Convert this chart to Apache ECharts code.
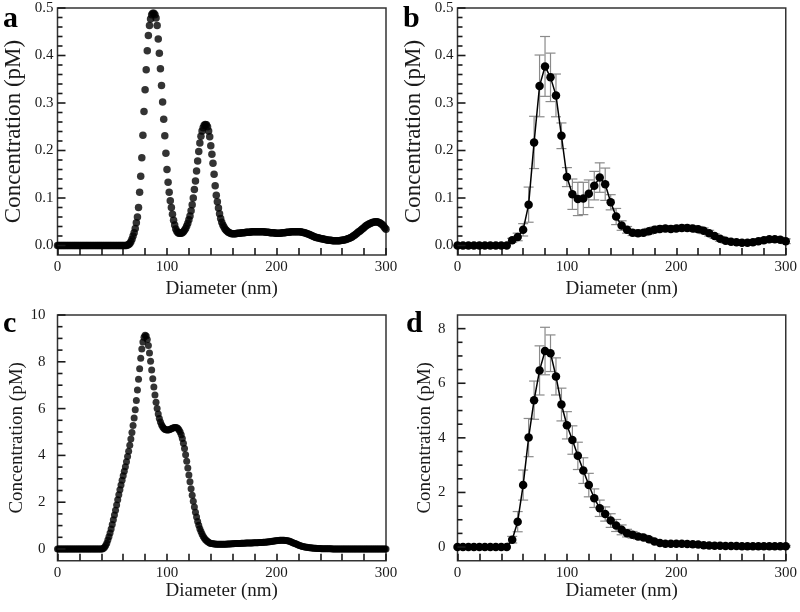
<!DOCTYPE html>
<html><head><meta charset="utf-8">
<script src="https://cdn.jsdelivr.net/npm/echarts@6/dist/echarts.min.js"></script>
<style>html,body{margin:0;padding:0;background:#fff}#c{width:800px;height:612px}</style>
</head><body><div id="c"></div>
<script>
// ---------- DATA ----------
// Panel a: dense scan, one value per nm from 0 to 300 nm
const stepFine = 1;
const concA = [
0,0,0,0,0,0,0,0,0,0, 0,0,0,0,0,0,0,0,0,0, 0,0,0,0,0,0,0,0,0,0, 0,0,0,0,0,0,0,0,0,0,
0,0,0,0,0,0,0,0,0,0, 0,0,0,0,0,0,0,0,0,0, 0,0,0,0,
0.001,0.002,0.004,0.008,0.013,0.020,0.027,0.036,0.048,0.060,0.080,0.112,0.146,0.185,0.232,0.282,
0.328,0.370,0.410,0.442,0.463,0.477,0.486,0.489,0.489,0.486,0.479,0.463,0.435,0.405,0.372,0.337,
0.302,0.266,0.231,0.194,0.160,0.133,0.112,0.094,0.080,0.066,0.053,0.043,0.035,0.030,0.027,0.026,
0.026,0.026,0.027,0.029,0.032,0.036,0.041,0.047,0.054,0.062,0.073,0.086,0.100,0.118,0.136,0.157,
0.178,0.198,0.216,0.230,0.241,0.248,0.253,0.255,0.254,0.250,0.241,0.229,0.210,0.192,0.173,0.150,
0.126,0.106,0.092,0.079,0.067,0.057,0.049,0.043,0.039,0.035,0.032,0.030,0.028,0.027,0.026,0.025,
0.025,0.025,0.025,0.025,0.026,0.026,0.026,0.026,0.027,0.027,0.027,
0.027,0.028,0.028,0.028,0.028,0.028,0.029,0.029,0.029,0.029,0.029,0.029,0.029,0.029,0.029,
0.029,0.029,0.029,0.029,0.028,0.028,0.028,0.028,0.027,0.027,0.027,0.027,0.027,0.026,0.026,
0.026,0.026,0.026,0.026,0.027,0.027,0.027,0.027,0.028,0.028,0.028,0.028,0.029,0.029,0.029,
0.029,0.029,0.029,0.029,0.029,0.029,0.029,0.028,0.028,0.027,0.027,0.026,0.025,0.024,0.023,
0.022,0.021,0.020,0.019,0.018,0.017,0.017,0.016,0.016,0.015,0.014,0.014,0.013,0.013,0.012,
0.012,0.011,0.011,0.011,0.011,0.010,0.010,0.010,0.010,0.010,0.010,0.010,0.010,0.011,0.011,
0.011,0.012,0.012,0.013,0.014,0.015,0.016,0.017,0.018,0.020,0.021,0.023,0.025,0.027,0.029,
0.030,0.032,0.034,0.036,0.038,0.040,0.042,0.043,0.045,0.046,0.047,0.048,0.049,0.049,0.050,
0.050,0.050,0.049,0.048,0.047,0.045,0.043,0.040,0.037,0.034
];

// Panel c: dense scan, one value per nm from 0 to 300 nm
const concC = [
0,0,0,0,0,0,0,0,0,0, 0,0,0,0,0,0,0,0,0,0, 0,0,0,0,0,0,0,0,0,0, 0,0,0,0,0,0,0,0,0,0, 0,0,
0.03,0.08,0.15,0.25,0.38,0.52,0.68,0.86,1.05,1.25,1.45,1.66,1.88,2.10,2.32,2.53,2.74,2.94,
3.13,3.32,3.52,3.73,3.95,4.18,4.43,4.70,4.98,5.28,5.60,5.95,6.35,6.80,7.25,7.70,8.15,8.55,
8.85,9.05,9.13,9.10,8.95,8.70,8.38,8.02,7.65,7.28,6.92,6.58,6.27,6.00,5.77,5.58,5.43,5.31,
5.22,5.16,5.12,5.10,5.09,5.09,5.10,5.12,5.14,5.16,5.18,5.19,5.19,5.18,5.15,5.09,5.00,4.88,
4.72,4.52,4.29,4.03,3.75,3.46,3.16,2.87,2.58,2.30,2.04,1.80,1.57,1.37,1.18,1.02,0.87,0.75,
0.64,0.55,0.47,0.41,0.36,0.32,0.29,0.26,0.24,0.23,0.22,0.21,0.21,0.20,
0.20,0.20,0.20,0.20,0.20,0.20,0.20,0.20,0.20,0.21,0.21,0.21,0.21,0.22,0.22,
0.22,0.23,0.23,0.23,0.24,0.24,0.24,0.25,0.25,0.25,0.25,0.26,0.26,0.26,0.26,
0.26,0.26,0.26,0.27,0.27,0.27,0.27,0.27,0.28,0.28,0.28,0.28,0.29,0.29,0.29,
0.30,0.30,0.31,0.31,0.32,0.33,0.33,0.34,0.35,0.35,0.36,0.36,0.37,0.37,0.37,
0.37,0.37,0.36,0.36,0.35,0.34,0.33,0.31,0.29,0.27,0.25,0.23,0.21,0.19,0.17,
0.15,0.14,0.12,0.11,0.10,0.09,0.08,0.07,0.06,0.05,0.05,0.04,0.04,0.03,0.03,
0.03,0.02,0.02,0.02,0.02,0.01,0.01,0.01,0.01,0.01,0.01,0.01,0.01,0.01,0.01,
0,0,0,0,0,0,0,0,0,0, 0,0,0,0,0,0,0,0,0,0, 0,0,0,0,0,0,0,0,0,0, 0,0,0,0,0,0,0,0,0,0, 0,0,0,0,0,0,0,0,0,0
];

// Panels b and d: averaged data with error bars, 5 nm bins
const diamCoarse = [0,5,10,15,20,25,30,35,40,45,50,55,60,65,70,75,80,85,90,95,100,105,110,115,120,125,130,135,140,145,150,155,160,165,170,175,180,185,190,195,200,205,210,215,220,225,230,235,240,245,250,255,260,265,270,275,280,285,290,295,300];
const concB = [0,0,0,0,0,0,0,0,0,0,
0.011,0.018,0.033,0.086,0.217,0.336,0.377,0.354,0.316,0.231,
0.144,0.108,0.098,0.099,0.109,0.126,0.143,0.129,0.091,0.061,
0.042,0.033,0.027,0.026,0.027,0.030,0.033,0.035,0.036,0.035,
0.036,0.037,0.037,0.036,0.034,0.031,0.026,0.020,0.014,0.010,
0.008,0.007,0.006,0.006,0.007,0.009,0.011,0.013,0.013,0.012,0.009];
const errB = [0,0,0,0,0,0,0,0,0,0,
0.004,0.008,0.013,0.037,0.055,0.065,0.063,0.051,0.045,0.027,
0.020,0.032,0.035,0.034,0.029,0.030,0.031,0.034,0.016,0.017,
0.010,0.007,0.006,0.006,0.006,0.006,0.006,0.006,0.006,0.006,
0.006,0.006,0.006,0.006,0.006,0.006,0.006,0.005,0.005,0.005,
0.005,0.005,0.005,0.005,0.005,0.005,0.005,0.005,0.005,0.005,0.005];
const concD = [0,0,0,0,0,0,0,0,0,0,
0.27,0.93,2.27,4.01,5.38,6.47,7.18,7.10,6.25,5.22,
4.46,3.92,3.34,2.80,2.27,1.79,1.42,1.21,0.97,0.79,
0.63,0.51,0.45,0.39,0.35,0.29,0.20,0.15,0.12,0.12,
0.12,0.12,0.11,0.10,0.09,0.07,0.06,0.05,0.05,0.04,
0.04,0.04,0.03,0.03,0.03,0.03,0.03,0.03,0.03,0.03,0.03];
const errD = [0,0,0,0,0,0,0,0,0,0,
0.12,0.37,0.55,0.70,0.70,0.90,0.87,0.67,0.68,0.60,
0.50,0.52,0.50,0.47,0.43,0.34,0.30,0.26,0.25,0.22,
0.18,0.14,0.12,0.10,0.08,0.06,0.05,0.04,0.03,0.03,
0.03,0.03,0.03,0.03,0.03,0.03,0.03,0.03,0.03,0.03,
0.03,0.03,0.03,0.03,0.03,0.03,0.03,0.03,0.03,0.03,0.03];

// Tick labels / tick positions
const xTicks = [0,20,40,60,80,100,120,140,160,180,200,220,240,260,280,300];
const yTicksAB = [0,0.1,0.2,0.3,0.4,0.5];
const yMinorAB = [0.02,0.04,0.06,0.08,0.12,0.14,0.16,0.18,0.22,0.24,0.26,0.28,0.32,0.34,0.36,0.38,0.42,0.44,0.46,0.48];
const yTicksC = [0,2,4,6,8,10];
const yMinorC = [0.5,1,1.5,2.5,3,3.5,4.5,5,5.5,6.5,7,7.5,8.5,9,9.5];
const yTicksD = [0,2,4,6,8];
const yMinorD = [0.5,1,1.5,2.5,3,3.5,4.5,5,5.5,6.5,7,7.5];
const yMinAB = -0.02, yMinC = -0.5, yMinD = -0.5;

const panelLetters = ['a','b','c','d'];
const xTitle = 'Diameter (nm)';
const yTitle = 'Concentration (pM)';

// ---------- CHART ----------
const FONT = 'Liberation Serif';
const INK = '#1a1a1a';
const TW = 1.6;
const chart = echarts.init(document.getElementById('c'), null, {renderer:'canvas'});

const grids = [
  {left:57.5, top:8, width:328.5, height:247},
  {left:457.5, top:8, width:328.5, height:247},
  {left:57.5, top:315, width:328.5, height:245.7},
  {left:457.5, top:315, width:328.5, height:245.7}
].map(g => Object.assign(g, {show:true, borderColor:'#333', borderWidth:1.5, backgroundColor:'transparent', containLabel:false}));

function xAxis(gi, gap){
  return {
    type:'value', gridIndex:gi, position:'bottom', min:0, max:300, interval:100,
    axisLine:{show:false, onZero:false}, splitLine:{show:false},
    axisTick:{show:true, inside:true, length:7, lineStyle:{color:INK, width:TW}},
    minorTick:{show:true, splitNumber:5, length:7, lineStyle:{color:INK, width:TW}},
    axisLabel:{fontFamily:FONT, fontSize:15, color:INK, margin:5},
    name:xTitle, nameLocation:'middle', nameGap:gap,
    nameTextStyle:{fontFamily:FONT, fontSize:19, color:INK}
  };
}
function yAxis(gi, min, max, majors, dec, labelMargin, nameSize, nameGap){
  return {
    type:'value', gridIndex:gi, position:'left', min:min, max:max,
    axisLine:{show:false, onZero:false}, splitLine:{show:false},
    axisTick:{show:false},
    axisLabel:{show:true, customValues:majors, fontFamily:FONT, fontSize:15, color:INK, margin:labelMargin,
      showMinLabel:true, showMaxLabel:true, hideOverlap:false,
      formatter: v => Number(v).toFixed(dec)},
    name:yTitle, nameLocation:'middle', nameGap:nameGap,
    nameTextStyle:{fontFamily:FONT, fontSize:nameSize, color:INK}
  };
}

function errItem(params, api){
  const x = api.value(0), lo = api.value(1), hi = api.value(2);
  const p1 = api.coord([x, hi]), p2 = api.coord([x, lo]);
  const w = 5, st = {stroke:'#8a8a8a', lineWidth:1.2};
  return {type:'group', children:[
    {type:'line', shape:{x1:p1[0], y1:p1[1], x2:p2[0], y2:p2[1]}, style:st},
    {type:'line', shape:{x1:p1[0]-w, y1:p1[1], x2:p1[0]+w, y2:p1[1]}, style:st},
    {type:'line', shape:{x1:p2[0]-w, y1:p2[1], x2:p2[0]+w, y2:p2[1]}, style:st}
  ]};
}
function errData(vals, errs){
  const out = [];
  vals.forEach((v,i) => { if (errs[i] > 0) out.push([diamCoarse[i], v - errs[i], v + errs[i]]); });
  return out;
}

const option = {
  animation:false,
  backgroundColor:'#fff',
  grid: grids,
  xAxis: [xAxis(0,25), xAxis(1,25), xAxis(2,21), xAxis(3,21)],
  yAxis: [
    yAxis(0, yMinAB, 0.5, yTicksAB, 1, 4, 23, 32),
    yAxis(1, yMinAB, 0.5, yTicksAB, 1, 4, 23, 32),
    yAxis(2, yMinC, 10, yTicksC, 0, 12, 19, 25),
    yAxis(3, yMinD, 8.5, yTicksD, 0, 12, 19, 23)
  ],
  series: [
    {type:'scatter', xAxisIndex:0, yAxisIndex:0, symbolSize:7.5,
      itemStyle:{color:'#000'}, data: concA.map((v,i) => [i*stepFine, v])},
    {type:'custom', xAxisIndex:1, yAxisIndex:1, renderItem:errItem, z:1,
      encode:{x:0, y:[1,2]}, data: errData(concB, errB)},
    {type:'line', xAxisIndex:1, yAxisIndex:1, symbol:'circle', symbolSize:8.5, showAllSymbol:true, z:3,
      itemStyle:{color:'#000'}, lineStyle:{color:'#000', width:1.5},
      data: diamCoarse.map((d,i) => [d, concB[i]])},
    {type:'scatter', xAxisIndex:2, yAxisIndex:2, symbolSize:7,
      itemStyle:{color:'#000'}, data: concC.map((v,i) => [i*stepFine, v])},
    {type:'custom', xAxisIndex:3, yAxisIndex:3, renderItem:errItem, z:1,
      encode:{x:0, y:[1,2]}, data: errData(concD, errD)},
    {type:'line', xAxisIndex:3, yAxisIndex:3, symbol:'circle', symbolSize:8.5, showAllSymbol:true, z:3,
      itemStyle:{color:'#000'}, lineStyle:{color:'#000', width:1.5},
      data: diamCoarse.map((d,i) => [d, concD[i]])}
  ],
  graphic: [
    {type:'text', left:3, top:4, style:{text:panelLetters[0], font:'bold 30px "Liberation Serif"', fill:'#000'}},
    {type:'text', left:403, top:4, style:{text:panelLetters[1], font:'bold 30px "Liberation Serif"', fill:'#000'}},
    {type:'text', left:3, top:309, style:{text:panelLetters[2], font:'bold 30px "Liberation Serif"', fill:'#000'}},
    {type:'text', left:406, top:309, style:{text:panelLetters[3], font:'bold 30px "Liberation Serif"', fill:'#000'}}
  ]
};
chart.setOption(option);

// Inward y-axis ticks, positioned through each grid's own scales
const tickSpecs = [
  {gi:0, majors:yTicksAB, minors:yMinorAB},
  {gi:1, majors:yTicksAB, minors:yMinorAB},
  {gi:2, majors:yTicksC, minors:yMinorC},
  {gi:3, majors:yTicksD, minors:yMinorD}
];
const tickEls = [];
tickSpecs.forEach(s => {
  const add = (v, len) => {
    const p = chart.convertToPixel({gridIndex:s.gi}, [0, v]);
    if (!p) return;
    tickEls.push({type:'line', z:100, silent:true,
      shape:{x1:p[0], y1:p[1], x2:p[0] + len, y2:p[1]},
      style:{stroke:INK, lineWidth:TW}});
  };
  s.majors.forEach(v => add(v, 8));
  s.minors.forEach(v => add(v, 5));
});
chart.setOption({graphic: option.graphic.concat(tickEls)});
</script>
</body></html>
